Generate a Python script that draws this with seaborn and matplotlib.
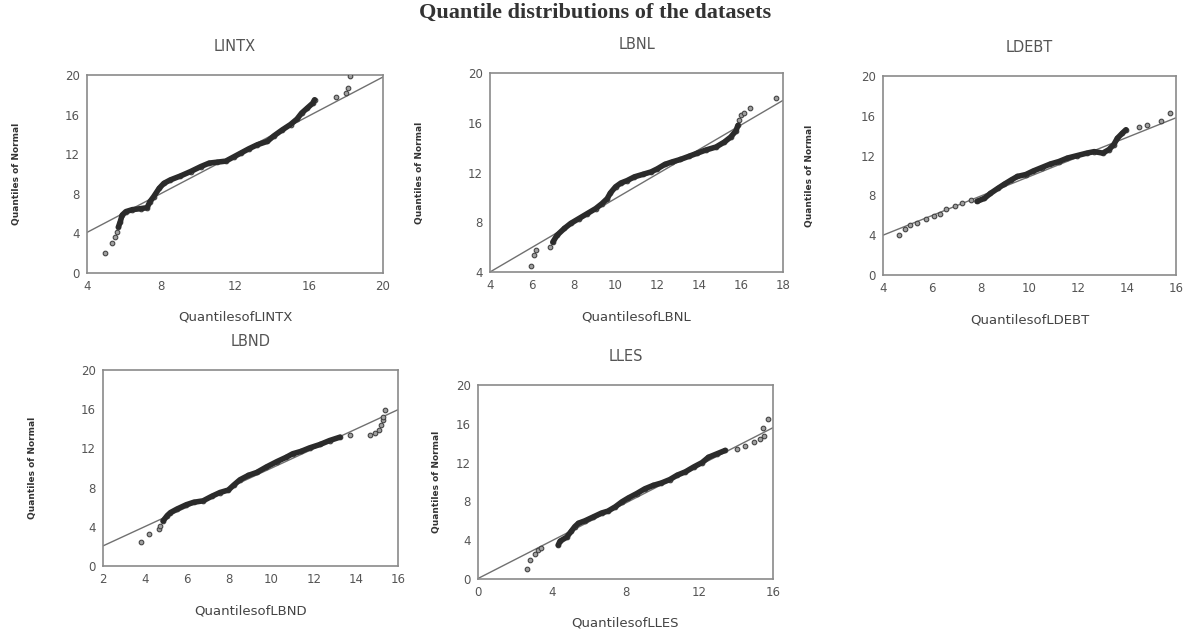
import numpy as np
import pandas as pd
import seaborn as sns
import matplotlib.pyplot as plt

sns.set_theme(style="white")
plt.rcParams['font.family'] = ['DejaVu Sans']

# LINTX (quantiles of series vs quantiles of normal)
lintx_x = [4.95, 5.35, 5.5, 5.6, 5.7, 5.8, 5.9, 6.1, 6.45, 6.9, 7.25, 7.4, 7.6, 7.9, 8.15,
           8.5, 9.05, 9.6, 10.15, 10.6, 11.05, 11.5, 11.95, 12.3, 12.75, 13.2, 13.75, 14.1,
           14.55, 15.0, 15.35, 15.6, 15.9, 16.2, 16.3, 17.45, 18.0, 18.1, 18.2]
lintx_y = [2.0, 3.0, 3.6, 4.1, 4.65, 5.2, 5.85, 6.2, 6.4, 6.5, 6.6, 7.2, 7.7, 8.55, 9.05,
           9.4, 9.8, 10.25, 10.75, 11.1, 11.2, 11.3, 11.75, 12.1, 12.55, 12.95, 13.3, 13.85,
           14.45, 15.0, 15.55, 16.15, 16.65, 17.15, 17.5, 17.75, 18.2, 18.7, 19.85]
lintx_line_x = [4, 20]
lintx_line_y = [4.1, 19.8]

# LBNL
lbnl_x = [5.95, 6.1, 6.2, 6.85, 7.0, 7.2, 7.55, 7.85, 8.25, 8.65, 9.05, 9.35, 9.6, 9.75,
          10.0, 10.25, 10.55, 10.9, 11.3, 11.7, 12.0, 12.35, 12.7, 13.1, 13.5, 13.9, 14.3,
          14.8, 15.2, 15.5, 15.75, 15.85, 15.9, 16.0, 16.15, 16.4, 17.65]
lbnl_y = [4.5, 5.35, 5.75, 6.05, 6.4, 6.95, 7.5, 7.9, 8.3, 8.7, 9.1, 9.5, 9.9, 10.35,
          10.85, 11.15, 11.35, 11.65, 11.85, 12.05, 12.3, 12.65, 12.85, 13.05, 13.3, 13.55,
          13.8, 14.05, 14.45, 14.85, 15.35, 15.8, 16.25, 16.6, 16.8, 17.2, 18.0]
lbnl_line_x = [4, 18]
lbnl_line_y = [4.0, 17.8]

# LDEBT
ldebt_x = [4.65, 4.9, 5.1, 5.4, 5.75, 6.1, 6.35, 6.6, 6.95, 7.25, 7.6, 7.85, 8.15, 8.4,
           8.7, 8.95, 9.25, 9.5, 9.85, 10.15, 10.5, 10.85, 11.2, 11.55, 11.95, 12.35, 12.65,
           13.0, 13.25, 13.45, 13.6, 13.8, 13.95, 14.5, 14.8, 15.4, 15.75]
ldebt_y = [4.0, 4.65, 5.05, 5.25, 5.6, 5.95, 6.15, 6.6, 6.95, 7.2, 7.5, 7.4, 7.7, 8.2,
           8.7, 9.1, 9.55, 9.9, 10.1, 10.45, 10.8, 11.15, 11.4, 11.75, 12.0, 12.25, 12.4,
           12.25, 12.6, 13.1, 13.75, 14.25, 14.6, 14.85, 15.1, 15.5, 16.3]
ldebt_line_x = [4, 16]
ldebt_line_y = [4.0, 15.8]

# LBND
lbnd_x = [3.8, 4.2, 4.65, 4.7, 4.85, 5.05, 5.2, 5.5, 5.95, 6.3, 6.75, 7.15, 7.55, 7.95,
          8.2, 8.5, 8.9, 9.3, 9.75, 10.25, 10.7, 11.0, 11.4, 11.8, 12.3, 12.75, 13.25,
          13.7, 14.65, 14.9, 15.1, 15.2, 15.3, 15.3, 15.4]
lbnd_y = [2.45, 3.25, 3.75, 4.1, 4.6, 5.15, 5.45, 5.8, 6.25, 6.5, 6.65, 7.1, 7.5, 7.75,
          8.25, 8.8, 9.25, 9.55, 10.1, 10.65, 11.1, 11.45, 11.7, 12.05, 12.4, 12.8, 13.15,
          13.35, 13.35, 13.55, 13.85, 14.35, 14.85, 15.2, 15.95]
lbnd_line_x = [2, 16]
lbnd_line_y = [2.05, 15.95]

# LLES
lles_x = [2.65, 2.8, 3.1, 3.25, 3.4, 4.35, 4.45, 4.8, 5.05, 5.25, 5.45, 5.8, 6.25, 6.7,
          7.05, 7.45, 7.8, 8.15, 8.6, 9.05, 9.5, 9.95, 10.4, 10.8, 11.25, 11.7, 12.15, 12.5,
          12.95, 13.4, 14.05, 14.5, 14.95, 15.3, 15.5, 15.45, 15.75]
lles_y = [1.0, 1.95, 2.55, 2.95, 3.2, 3.5, 3.9, 4.3, 4.9, 5.4, 5.75, 6.0, 6.4, 6.8,
          7.0, 7.45, 7.95, 8.35, 8.8, 9.3, 9.65, 9.9, 10.25, 10.7, 11.05, 11.55, 12.0, 12.55,
          12.9, 13.25, 13.4, 13.7, 14.1, 14.45, 14.7, 15.55, 16.5]
lles_line_x = [0, 16]
lles_line_y = [0.05, 15.6]

panels = [
    dict(name="LINTX", x=lintx_x, y=lintx_y, lx=lintx_line_x, ly=lintx_line_y,
         core=(4, 35), xlim=(4, 20), xt=[4, 8, 12, 16, 20], ylim=(0, 20),
         yt=[0, 4, 8, 12, 16, 20], rect=[87, 75, 383, 273], yl=70),
    dict(name="LBNL", x=lbnl_x, y=lbnl_y, lx=lbnl_line_x, ly=lbnl_line_y,
         core=(4, 32), xlim=(4, 18), xt=[4, 6, 8, 10, 12, 14, 16, 18], ylim=(4, 20),
         yt=[4, 8, 12, 16, 20], rect=[490, 73, 783, 272], yl=70),
    dict(name="LDEBT", x=ldebt_x, y=ldebt_y, lx=ldebt_line_x, ly=ldebt_line_y,
         core=(11, 33), xlim=(4, 16), xt=[4, 6, 8, 10, 12, 14, 16], ylim=(0, 20),
         yt=[0, 4, 8, 12, 16, 20], rect=[883, 76, 1176, 275], yl=73),
    dict(name="LBND", x=lbnd_x, y=lbnd_y, lx=lbnd_line_x, ly=lbnd_line_y,
         core=(4, 27), xlim=(2, 16), xt=[2, 4, 6, 8, 10, 12, 14, 16], ylim=(0, 20),
         yt=[0, 4, 8, 12, 16, 20], rect=[103, 370, 398, 566], yl=70),
    dict(name="LLES", x=lles_x, y=lles_y, lx=lles_line_x, ly=lles_line_y,
         core=(5, 30), xlim=(0, 16), xt=[0, 4, 8, 12, 16], ylim=(0, 20),
         yt=[0, 4, 8, 12, 16, 20], rect=[478, 385, 773, 579], yl=41),
]

W, H = 1197, 637
fig = plt.figure(figsize=(W / 100, H / 100), dpi=100)

for p in panels:
    l, t, r, b = p["rect"]
    ax = fig.add_axes([l / W, 1 - b / H, (r - l) / W, (b - t) / H])
    df = pd.DataFrame({"x": p["x"], "y": p["y"]})
    c0, c1 = p["core"]
    # fitted reference line
    sns.lineplot(x=p["lx"], y=p["ly"], ax=ax, color="#707070", lw=1.0)
    sns.scatterplot(data=df, x="x", y="y", ax=ax, s=11, color="#a0a0a0",
                    edgecolor="#444444", linewidth=0.8, zorder=3)
    # dense middle part drawn as a thick dark trace
    sns.lineplot(data=df.iloc[c0:c1], x="x", y="y", ax=ax, sort=False, estimator=None,
                 color="#2b2b2b", lw=4.0, zorder=4)
    ax.set_xlim(p["xlim"])
    ax.set_ylim(p["ylim"])
    ax.set_xticks(p["xt"])
    ax.set_yticks(p["yt"])
    ax.tick_params(direction="out", length=3, width=0.8, color="#888888",
                   labelsize=8.5, labelcolor="#555555", pad=2)
    for s in ax.spines.values():
        s.set_color("#8a8a8a")
        s.set_linewidth(1.2)
    ax.set_title(p["name"], fontsize=10.5, color="#555555", pad=17)
    ax.set_xlabel("Quantilesof" + p["name"], fontsize=9.5, color="#444444")
    ax.set_ylabel("Quantiles of Normal", fontsize=6.5, color="#333333", weight="bold")
    ax.xaxis.set_label_coords(0.5, -38 / (b - t))
    ax.yaxis.set_label_coords(-(p["yl"] - 4) / (r - l), 0.5)

fig.text(595 / W, 1 - 13 / H, "Quantile distributions of the datasets",
         family="Liberation Serif", weight="bold", fontsize=16, color="#333333",
         ha="center", va="center")

fig.savefig("out.png", dpi=100)
